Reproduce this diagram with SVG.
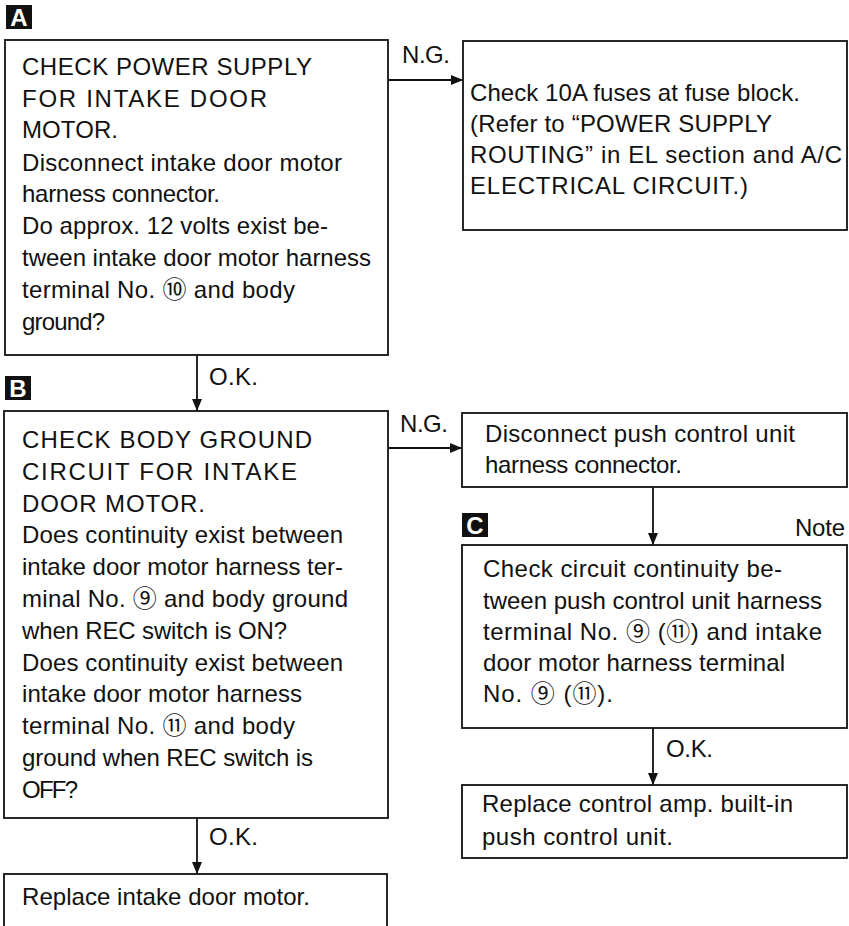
<svg xmlns="http://www.w3.org/2000/svg" width="849" height="926" viewBox="0 0 849 926">
<style>
.box{fill:#fff;stroke:#111;stroke-width:1.8}
.t{font-family:"Liberation Sans",Arial,"DejaVu Sans",sans-serif;font-size:24px;fill:#111}
.c{font-family:"Noto Sans CJK JP","DejaVu Sans",sans-serif;font-size:24px}
.tag rect{fill:#111}
.tag text{font-family:"Liberation Sans",Arial,sans-serif;font-size:24px;font-weight:bold;fill:#fff;text-anchor:middle}
.conn line{stroke:#111;stroke-width:1.8}
</style>
<defs>
<marker id="ah" markerUnits="userSpaceOnUse" markerWidth="12" markerHeight="10" refX="12" refY="5" orient="auto">
<path d="M0,0 L12,5 L0,10 Z" fill="#111"/>
</marker>
</defs>
<rect width="849" height="926" fill="#fff"/>

<g id="connectors" class="conn">
<line x1="388" y1="80" x2="463" y2="80" marker-end="url(#ah)"/>
<line x1="197" y1="355" x2="197" y2="411" marker-end="url(#ah)"/>
<line x1="388" y1="448" x2="462" y2="448" marker-end="url(#ah)"/>
<line x1="653" y1="487" x2="653" y2="545" marker-end="url(#ah)"/>
<line x1="653" y1="728" x2="653" y2="785" marker-end="url(#ah)"/>
<line x1="197" y1="818" x2="197" y2="874" marker-end="url(#ah)"/>
</g>

<g id="edge-labels" class="t">
<text x="402" y="63" textLength="48">N.G.</text>
<text x="209" y="385" textLength="49">O.K.</text>
<text x="400" y="432" textLength="48">N.G.</text>
<text x="666" y="757" textLength="47">O.K.</text>
<text x="209" y="845" textLength="49">O.K.</text>
</g>

<g id="tagA" class="tag"><rect x="6" y="5" width="26" height="24"/><text x="19" y="26">A</text></g>
<g id="tagB" class="tag"><rect x="5" y="376" width="26" height="24"/><text x="18" y="397">B</text></g>
<g id="tagC" class="tag"><rect x="462" y="513" width="26" height="24"/><text x="475" y="534">C</text></g>

<g id="nodeA">
<rect class="box" x="5" y="40" width="383" height="315"/>
<g class="t">
<text x="22" y="75" textLength="290">CHECK POWER SUPPLY</text>
<text x="22" y="107" textLength="245">FOR INTAKE DOOR</text>
<text x="22" y="138" textLength="96">MOTOR.</text>
<text x="22" y="171" textLength="320">Disconnect intake door motor</text>
<text x="22" y="202" textLength="198">harness connector.</text>
<text x="22" y="234" textLength="306">Do approx. 12 volts exist be-</text>
<text x="22" y="266" textLength="349">tween intake door motor harness</text>
<text x="22" y="298" textLength="273">terminal No. <tspan class="c">⑩</tspan> and body</text>
<text x="22" y="330" textLength="83">ground?</text>
</g>
</g>

<g id="nodeFuse">
<rect class="box" x="463" y="41" width="384" height="189"/>
<g class="t">
<text x="470" y="101" textLength="330">Check 10A fuses at fuse block.</text>
<text x="470" y="132" textLength="302">(Refer to “POWER SUPPLY</text>
<text x="470" y="163" textLength="372">ROUTING” in EL section and A/C</text>
<text x="470" y="194" textLength="278">ELECTRICAL CIRCUIT.)</text>
</g>
</g>

<g id="nodeB">
<rect class="box" x="4" y="411" width="384" height="407"/>
<g class="t">
<text x="22" y="448" textLength="290">CHECK BODY GROUND</text>
<text x="22" y="480" textLength="275">CIRCUIT FOR INTAKE</text>
<text x="22" y="512" textLength="183">DOOR MOTOR.</text>
<text x="22" y="543" textLength="321">Does continuity exist between</text>
<text x="22" y="575" textLength="321">intake door motor harness ter-</text>
<text x="22" y="607" textLength="326">minal No. <tspan class="c">⑨</tspan> and body ground</text>
<text x="22" y="639" textLength="265">when REC switch is ON?</text>
<text x="22" y="671" textLength="321">Does continuity exist between</text>
<text x="22" y="702" textLength="280">intake door motor harness</text>
<text x="22" y="734" textLength="273">terminal No. <tspan class="c">⑪</tspan> and body</text>
<text x="22" y="766" textLength="291">ground when REC switch is</text>
<text x="22" y="798" textLength="56">OFF?</text>
</g>
</g>

<g id="nodeDisconnect">
<rect class="box" x="462" y="413" width="385" height="74"/>
<g class="t">
<text x="485" y="442" textLength="310">Disconnect push control unit</text>
<text x="485" y="473" textLength="197">harness connector.</text>
</g>
</g>

<g id="nodeC">
<text class="t" x="795" y="536" textLength="50">Note</text>
<rect class="box" x="462" y="545" width="385" height="183"/>
<g class="t">
<text x="483" y="577" textLength="299">Check circuit continuity be-</text>
<text x="483" y="609" textLength="339">tween push control unit harness</text>
<text x="483" y="640" textLength="339">terminal No. <tspan class="c">⑨</tspan> (<tspan class="c">⑪</tspan>) and intake</text>
<text x="483" y="671" textLength="302">door motor harness terminal</text>
<text x="483" y="702" textLength="130">No. <tspan class="c">⑨</tspan> (<tspan class="c">⑪</tspan>).</text>
</g>
</g>

<g id="nodeReplaceAmp">
<rect class="box" x="462" y="785" width="385" height="73"/>
<g class="t">
<text x="482" y="812" textLength="311">Replace control amp. built-in</text>
<text x="482" y="845" textLength="191">push control unit.</text>
</g>
</g>

<g id="nodeReplaceMotor">
<rect class="box" x="4" y="874" width="383" height="70"/>
<text class="t" x="22" y="905" textLength="288">Replace intake door motor.</text>
</g>
</svg>
